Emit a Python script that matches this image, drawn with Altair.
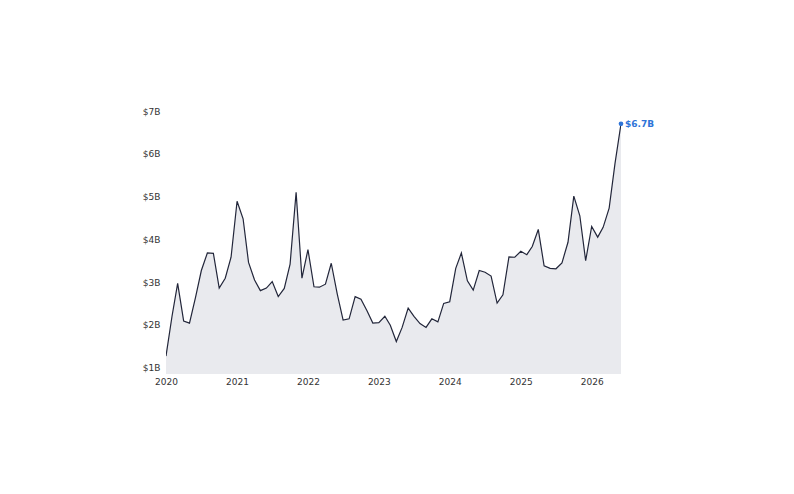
import altair as alt
import pandas as pd

start = "2020-01-01"
values_b = [
    1.27, 2.20, 2.97, 2.09, 2.04, 2.64, 3.27, 3.68, 3.67, 2.86, 3.09, 3.58,
    4.89, 4.48, 3.46, 3.05, 2.80, 2.86, 3.01, 2.66, 2.85, 3.42, 5.10, 3.09,
    3.76, 2.89, 2.88, 2.95, 3.44, 2.72, 2.11, 2.14, 2.66, 2.60, 2.33, 2.04,
    2.05, 2.20, 1.99, 1.61, 1.94, 2.39, 2.20, 2.03, 1.94, 2.14, 2.07, 2.50,
    2.54, 3.32, 3.68, 3.03, 2.81, 3.27, 3.23, 3.14, 2.51, 2.70, 3.59, 3.58,
    3.72, 3.64, 3.83, 4.23, 3.38, 3.32, 3.31, 3.45, 3.93, 5.01, 4.55, 3.50,
    4.30, 4.05, 4.28, 4.73, 5.77, 6.70,
]
last_label = ["$6.7B"]
y_ticks = [1, 2, 3, 4, 5, 6, 7]

dates = pd.date_range(start, periods=len(values_b), freq="MS")
df = pd.DataFrame({"date": dates, "value": values_b})
last = df.tail(1).copy()
last["label"] = last_label

W, H = 455, 263
x_scale = alt.Scale(domain=[dates[0].isoformat(), dates[-1].isoformat()], nice=False)
y_scale = alt.Scale(domain=[0.85, 7.0], nice=False, zero=False)

x_axis = alt.Axis(format="%Y", tickCount={"interval": "year", "step": 1}, grid=False,
                  domain=False, ticks=False, labelFontSize=9, labelColor="#333333",
                  labelPadding=3, title=None, labelFont="DejaVu Sans", labelFlush=False)
y_axis = alt.Axis(values=y_ticks, labelExpr="'$' + datum.value + 'B'", grid=False,
                  domain=False, ticks=False, labelFontSize=9, labelColor="#333333",
                  labelPadding=6, title=None, labelFont="DejaVu Sans", labelFlush=False)

base = alt.Chart(df)
area = base.mark_area(color="#e9eaee", clip=True).encode(
    x=alt.X("date:T", scale=x_scale, axis=x_axis),
    y=alt.Y("value:Q", scale=y_scale, axis=y_axis),
)
line = base.mark_line(color="#22263a", strokeWidth=1.2, clip=True).encode(
    x=alt.X("date:T", scale=x_scale),
    y=alt.Y("value:Q", scale=y_scale),
)
pt = alt.Chart(last).mark_circle(color="#2f74d8", size=22, opacity=1).encode(
    x=alt.X("date:T", scale=x_scale),
    y=alt.Y("value:Q", scale=y_scale),
)
txt = alt.Chart(last).mark_text(color="#2f74d8", fontSize=9, fontWeight="bold", align="left",
                                dx=4, baseline="middle", font="DejaVu Sans").encode(
    x=alt.X("date:T", scale=x_scale),
    y=alt.Y("value:Q", scale=y_scale),
    text="label:N",
)

chart = (area + line + pt + txt).properties(
    width=W, height=H,
    background="white",
    autosize=alt.AutoSizeParams(type="none"),
    padding={"left": 166, "top": 111, "right": 794 - 166 - W, "bottom": 494 - 111 - H},
).configure_view(stroke=None)

chart.save("out.html", embed_options={"renderer": "svg", "actions": False})
